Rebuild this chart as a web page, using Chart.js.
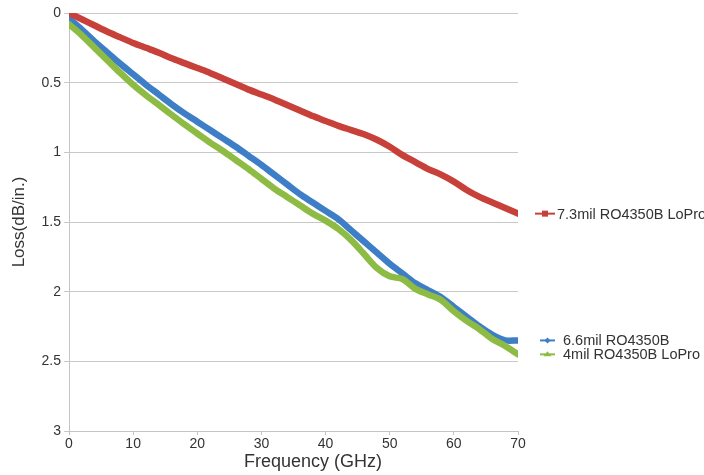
<!DOCTYPE html>
<html lang="en">
<head>
  <meta charset="UTF-8" />
  <title>Loss vs Frequency</title>
  <script src="https://cdn.jsdelivr.net/npm/chart.js"></script>
  <style>
    body {
      margin: 0;
      background: #fff;
    }
    .wrap {
      width: 704px;
      height: 475px;
      position: relative;
    }
  </style>
</head>
<body>
  <div class="wrap"><canvas id="chart"></canvas></div>

  <script>
    // frequency in GHz, loss in dB/in.
    const freq = [0, 2, 4, 6, 8, 10, 12, 14, 16, 18, 20, 22, 24, 26, 28, 30, 32, 34,
                  36, 38, 40, 42, 44, 46, 48, 50, 52, 54, 56, 58, 60, 62, 64, 66, 68, 70];
    const loss73 = [0.00, 0.045, 0.09, 0.135, 0.175, 0.215, 0.25, 0.285, 0.325, 0.36, 0.395, 0.43,
                    0.47, 0.51, 0.55, 0.585, 0.62, 0.66, 0.70, 0.74, 0.775, 0.81, 0.84, 0.87,
                    0.91, 0.96, 1.02, 1.07, 1.12, 1.16, 1.21, 1.27, 1.32, 1.36, 1.40, 1.44];
    const loss66 = [0.04, 0.12, 0.205, 0.285, 0.365, 0.44, 0.515, 0.585, 0.655, 0.72, 0.78, 0.84,
                    0.90, 0.96, 1.025, 1.09, 1.16, 1.23, 1.30, 1.36, 1.42, 1.48, 1.56, 1.64,
                    1.72, 1.80, 1.87, 1.94, 1.99, 2.04, 2.11, 2.18, 2.25, 2.31, 2.35, 2.35];
    const loss4 = [0.08, 0.16, 0.25, 0.34, 0.43, 0.515, 0.59, 0.66, 0.73, 0.80, 0.865, 0.93,
                   0.99, 1.055, 1.12, 1.19, 1.26, 1.32, 1.38, 1.44, 1.49, 1.55, 1.63, 1.73,
                   1.83, 1.89, 1.91, 1.98, 2.02, 2.06, 2.14, 2.21, 2.27, 2.34, 2.39, 2.45];
    const seriesNames = ['7.3mil RO4350B LoPro', '6.6mil RO4350B', '4mil RO4350B LoPro'];
    const seriesColors = ['#c8403a', '#3d7ec6', '#8dbb44'];
    const markers = ['rect', 'rectRot', 'triangle'];
    const xTitle = 'Frequency (GHz)';
    const yTitle = 'Loss(dB/in.)';

    const FONT = "'Liberation Sans', Arial, sans-serif";
    const TEXT = '#333';

    // legend at the right end of each line + x title, like the original
    const endLegend = {
      id: 'endLegend',
      afterDraw(chart) {
        const ctx = chart.ctx;
        const yScale = chart.scales.y;
        ctx.save();
        chart.data.datasets.forEach((ds, i) => {
          const last = ds.data[ds.data.length - 1].y;
          const y = yScale.getPixelForValue(last);
          const x0 = i === 0 ? 535 : 540;
          const x1 = 555;
          ctx.strokeStyle = seriesColors[i];
          ctx.fillStyle = seriesColors[i];
          ctx.lineWidth = 2;
          ctx.beginPath();
          ctx.moveTo(x0, y);
          ctx.lineTo(x1, y);
          ctx.stroke();
          const cx = (x0 + x1) / 2;
          ctx.beginPath();
          if (markers[i] === 'rect') {
            ctx.rect(cx - 3, y - 3, 6, 6);
          } else if (markers[i] === 'rectRot') {
            ctx.moveTo(cx, y - 3); ctx.lineTo(cx + 3, y); ctx.lineTo(cx, y + 3); ctx.lineTo(cx - 3, y);
          } else {
            ctx.moveTo(cx - 4, y + 2); ctx.lineTo(cx + 4, y + 2); ctx.lineTo(cx, y - 3);
          }
          ctx.closePath();
          ctx.fill();
          ctx.fillStyle = TEXT;
          ctx.font = '14.5px ' + FONT;
          ctx.textAlign = 'left';
          ctx.textBaseline = 'middle';
          ctx.fillText(seriesNames[i], i === 0 ? 557 : 563, y + 1);
        });
        ctx.fillStyle = TEXT;
        ctx.font = '18px ' + FONT;
        ctx.textAlign = 'center';
        ctx.textBaseline = 'middle';
        ctx.fillText(xTitle, 313, 462);
        ctx.restore();
      }
    };

    const series = [loss73, loss66, loss4];
    const datasets = series.map((vals, i) => ({
      label: seriesNames[i],
      data: freq.map((f, k) => ({ x: f, y: vals[k] })),
      borderColor: seriesColors[i],
      borderWidth: 6.5,
      pointRadius: 0,
      tension: 0.3,
      fill: false,
      borderCapStyle: 'round',
      borderJoinStyle: 'round',
      order: i === 2 ? 0 : 1
    }));

    new Chart(document.getElementById('chart'), {
      type: 'line',
      data: { datasets },
      options: {
        responsive: true,
        maintainAspectRatio: false,
        animation: false,
        layout: { padding: { left: 0, right: 186, top: 13, bottom: 0 } },
        plugins: {
          legend: { display: false },
          tooltip: { enabled: false }
        },
        scales: {
          x: {
            type: 'linear',
            min: 0,
            max: 70,
            afterFit(scale) { scale.height = 44; },
            ticks: {
              stepSize: 10,
              padding: 1,
              color: TEXT,
              font: { family: FONT, size: 14 }
            },
            grid: {
              drawOnChartArea: false,
              drawTicks: true,
              tickLength: 4,
              color: '#c4c4c4'
            },
            border: { color: '#c4c4c4' }
          },
          y: {
            reverse: true,
            min: 0,
            max: 3,
            afterFit(scale) { scale.width = 69; },
            ticks: {
              stepSize: 0.5,
              padding: 3,
              color: TEXT,
              font: { family: FONT, size: 14 },
              callback: (v) => String(v)
            },
            grid: {
              color: '#c8c8c8',
              tickLength: 5
            },
            border: { color: '#c4c4c4' },
            title: {
              display: true,
              text: yTitle,
              color: TEXT,
              padding: { top: 9, bottom: 0 },
              font: { family: FONT, size: 17 }
            }
          }
        }
      },
      plugins: [endLegend]
    });
  </script>
</body>
</html>
